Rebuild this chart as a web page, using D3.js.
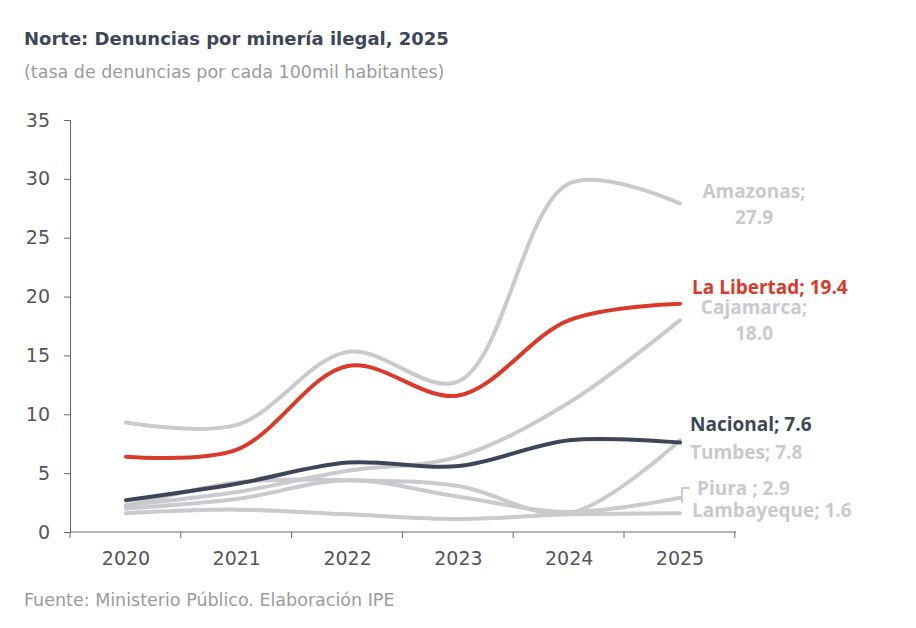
<!DOCTYPE html><html><head><meta charset="utf-8"><script src="https://cdn.jsdelivr.net/npm/d3@7"></script>
<style>body{margin:0;background:#fff;font-family:"Open Sans",sans-serif}</style></head><body><svg id="c" width="916" height="628"></svg>
<script>
const years=["2020","2021","2022","2023","2024","2025"];
const yTicks=[0,5,10,15,20,25,30,35];
const amazonas=[9.3,9.1,15.3,12.8,29.6,27.9];
const cajamarca=[2.3,3.4,5.2,6.4,11.0,18.0];
const tumbes=[2.2,4.2,4.4,3.9,1.6,7.8];
const piura=[2.0,2.8,4.4,3.0,1.7,2.9];
const lambayeque=[1.6,1.9,1.5,1.1,1.5,1.6];
const nacional=[2.7,4.1,5.9,5.6,7.8,7.6];
const libertad=[6.4,7.0,14.1,11.6,18.0,19.4];
const series=[
 {n:"Amazonas",v:amazonas,c:"#c9c9ce"},{n:"Cajamarca",v:cajamarca,c:"#c9c9ce"},
 {n:"Tumbes",v:tumbes,c:"#c9c9ce"},{n:"Piura",v:piura,c:"#c9c9ce"},
 {n:"Lambayeque",v:lambayeque,c:"#c9c9ce"},{n:"Nacional",v:nacional,c:"#3d4658"},
 {n:"La Libertad",v:libertad,c:"#d93a2b"}];
const svg=d3.select("#c");
const DV="DejaVu Sans";
const x=d3.scalePoint().domain(years).range([126,680]);
const y=d3.scaleLinear().domain([0,35]).range([532,120]);
svg.append("text").attr("x",24).attr("y",45).attr("font-size",18).attr("font-family",DV).attr("font-weight",700).attr("fill","#3d4658").text("Norte: Denuncias por minería ilegal, 2025");
svg.append("text").attr("x",24).attr("y",78).attr("font-size",17.5).attr("font-family",DV).attr("fill","#9a9a9f").text("(tasa de denuncias por cada 100mil habitantes)");
const ya=svg.append("g").attr("transform","translate(70,0)").call(d3.axisLeft(y).tickValues(yTicks).tickSize(6).tickPadding(14));
ya.selectAll("text").attr("font-size",19).attr("fill","#555").attr("font-family",DV);
ya.select(".domain").attr("stroke","#666");ya.selectAll("line").attr("stroke","#666");
const step=x.step();
const xa=svg.append("g").attr("transform","translate(0,532)");
xa.append("line").attr("x1",70).attr("x2",736).attr("stroke","#666");
d3.range(7).forEach(i=>xa.append("line").attr("x1",70+i*step).attr("x2",70+i*step).attr("y2",6).attr("stroke","#666"));
years.forEach(yr=>xa.append("text").attr("x",x(yr)).attr("y",33).attr("text-anchor","middle").attr("font-size",19).attr("font-family",DV).attr("fill","#555").text(yr));
const line=d3.line().x((d,i)=>x(years[i])).y(d=>y(d)).curve(d3.curveCatmullRom.alpha(0.5));
series.forEach(s=>svg.append("path").attr("d",line(s.v)).attr("fill","none").attr("stroke",s.c).attr("stroke-width",4).attr("stroke-linecap","round"));
const lab=(t,xx,yy,c,w,a)=>svg.append("text").attr("x",xx).attr("y",yy).attr("font-size",19).attr("font-weight",w||700).attr("fill",c).attr("text-anchor",a||"start").text(t);
const g="#c9c9ce";
lab("Amazonas;",754,198,g,700,"middle");lab("27.9",754,224,g,700,"middle");
lab("La Libertad;  19.4",692,294,"#d93a2b");
lab("Cajamarca;",754,314,g,700,"middle");lab("18.0",754,340,g,700,"middle");
lab("Nacional;  7.6",690,431,"#3d4658");
lab("Tumbes;  7.8",690,459,g);
lab("Piura ;  2.9",697,495,g);
lab("Lambayeque;  1.6",692,517,g);
svg.append("path").attr("d","M682,503 L682,488 L690,488").attr("fill","none").attr("stroke",g).attr("stroke-width",2);
svg.append("text").attr("x",24).attr("y",606).attr("font-size",17.5).attr("font-family",DV).attr("fill","#9a9a9f").text("Fuente: Ministerio Público. Elaboración IPE");
</script></body></html>
